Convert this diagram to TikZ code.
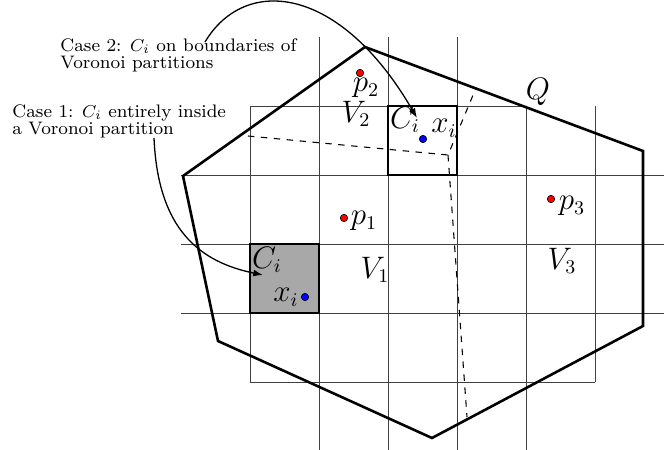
\documentclass[tikz,border=0pt]{standalone}
\usepackage{amsmath}
\usetikzlibrary{arrows.meta,calc,positioning}

\begin{document}
\begin{tikzpicture}[
    x=0.0163cm, y=-0.0163cm,
    grid/.style={draw=black!75, line width=0.45pt},
    region/.style={draw, line width=1.2pt, line join=miter},
    cell/.style={draw, line width=1pt},
    border/.style={draw, dashed, line width=0.5pt},
    site/.style={circle, draw=black, fill=red, inner sep=0pt, minimum size=1.2mm, line width=0.3pt},
    agent/.style={circle, draw=black, fill=blue, inner sep=0pt, minimum size=1.2mm, line width=0.3pt},
    lbl/.style={inner sep=0pt, font=\fontsize{13.5}{16}\selectfont},
    case/.style={inner sep=0pt, align=left, anchor=north west, font=\fontsize{8.4}{8}\selectfont},
    pointer/.style={-{Latex[length=4.5pt,width=3.2pt]}, line width=0.6pt}
]
\useasboundingbox (0,0) rectangle (666,450);

% grid cells
\foreach \x in {319,388,457} \draw[grid] (\x,37) -- (\x,450);
\draw[grid] (526,106) -- (526,450);
\foreach \x in {250,595} \draw[grid] (\x,106) -- (\x,382);
\foreach \y in {175,244,313} \draw[grid] (181,\y) -- (664,\y);
\draw[grid] (250,106) -- (526,106);
\draw[grid] (250,382) -- (595,382);

% the two cells C_i
\filldraw[cell, fill=gray!68] (250,244) rectangle (319,313);
\draw[cell] (388,106) rectangle (457,175);

% region Q
\draw[region] (365,47) -- (643,151) -- (643,326) -- (432,438) -- (218,341) -- (183,176) -- cycle;

% Voronoi boundaries
\coordinate (v) at (448,155);
\coordinate (b1) at (248,136);
\coordinate (b2) at (476,88);
\coordinate (b3) at (467,417);
\draw[border] (b1) -- (v) -- (b2);
\draw[border] (v) -- (b3);

% sites and agents
\node[site] (p1) at (344,218) {};
\node[site] (p2) at (360,73) {};
\node[site] (p3) at (551,199) {};
\node[agent] (xa) at (305,297) {};
\node[agent] (xb) at (423,139) {};

\node[lbl] (lp1) at (364,221) {$p_1$};
\node[lbl] (lp2) at (366,88) {$p_2$};
\node[lbl] (lp3) at (572,206) {$p_3$};
\node[lbl] (lv1) at (375,270) {$V_1$};
\node[lbl] (lv2) at (356,114) {$V_2$};
\node[lbl] (lv3) at (562,261) {$V_3$};
\node[lbl] (lq) at (538,92) {$Q$};
\node[lbl] (lca) at (267,260) {$C_i$};
\node[lbl] (lxa) at (286,297) {$x_i$};
\node[lbl] (lcb) at (405,120) {$C_i$};
\node[lbl] (lxb) at (444,128) {$x_i$};

% case labels
\node[case] (case2) at (60,38) {Case 2: $C_i$ on boundaries of\\Voronoi partitions};
\node[case] (case1) at (12,104) {Case 1: $C_i$ entirely inside\\a Voronoi partition};

\coordinate (s2) at (205,42);
\coordinate (t2) at (417,118);
\coordinate (s1) at (154,138);
\coordinate (t1) at (263,275);
\draw[pointer] (s2) .. controls (245,-25) and (340,-15) .. (t2);
\draw[pointer] (s1) .. controls (158,230) and (200,262) .. (t1);

\end{tikzpicture}
\end{document}
